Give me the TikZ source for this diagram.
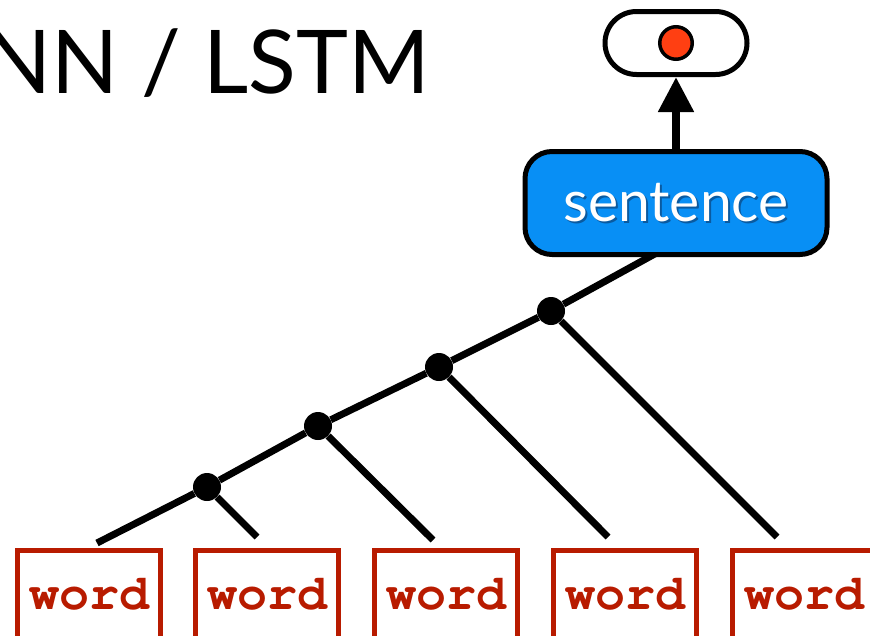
\documentclass[tikz,border=0pt]{standalone}
\usepackage{fontspec}
\setmainfont{Lato}
\newfontfamily\wordfont{TeX Gyre Cursor}
\usetikzlibrary{arrows.meta}
\definecolor{sentblue}{RGB}{8,143,245}
\definecolor{sentshade}{RGB}{10,90,160}
\definecolor{outred}{RGB}{255,63,18}
\definecolor{wordred}{RGB}{184,27,0}
\newcommand\shadowtext[1]{\rlap{\kern2pt\smash{\raisebox{-2pt}{\color{sentshade}#1}}}#1}
\begin{document}
\begin{tikzpicture}[x=1pt,y=-1pt,
  wordbox/.style={draw=wordred, line width=5, minimum width=143, minimum height=88, inner sep=0, text=wordred, font=\wordfont\bfseries\fontsize{50}{50}\selectfont},
  dot/.style={circle, fill=black, inner sep=0, minimum size=28},
  tree/.style={line width=7}]
\useasboundingbox (0,0) rectangle (870,635);
\clip (0,0) rectangle (870,635);
\node[anchor=base east, inner sep=0, font=\fontsize{88}{88}\selectfont] (title) at (430,93) {RNN / LSTM};
% words
\node[wordbox] (w1) at (89,594.5) {word};
\node[wordbox] (w2) at (267,594.5) {word};
\node[wordbox] (w3) at (446,594.5) {word};
\node[wordbox] (w4) at (625,594.5) {word};
\node[wordbox] (w5) at (804,594.5) {word};
% tree
\coordinate (t0) at (97,543);
\coordinate (t1) at (257,537);
\coordinate (t2) at (433,540);
\coordinate (t3) at (608,537);
\coordinate (t4) at (777,537);
\coordinate (top) at (662,250);
\node[dot] (d1) at (207,487) {};
\node[dot] (d2) at (318,426) {};
\node[dot] (d3) at (439,367) {};
\node[dot] (d4) at (551,311) {};
\draw[tree] (t0) -- (d1) -- (d2) -- (d3) -- (d4) -- (top);
\draw[tree] (d1) -- (t1);
\draw[tree] (d2) -- (t2);
\draw[tree] (d3) -- (t3);
\draw[tree] (d4) -- (t4);
% sentence and output
\node[draw, line width=5, fill=sentblue, rounded corners=27, minimum width=302, minimum height=103, inner sep=0, text=white, font=\fontsize{57}{57}\selectfont] (sent) at (676,203) {\shadowtext{sentence}};
\node[draw, line width=5, rounded corners=31.5, minimum width=142, minimum height=63, inner sep=0] (out) at (676,43) {};
\node[circle, draw, line width=3.5, fill=outred, minimum size=32.5, inner sep=0] (outdot) at (out.center) {};
\draw[line width=8, -{Triangle[length=35pt,width=34pt]}] (sent) -- (out);
\end{tikzpicture}
\end{document}
